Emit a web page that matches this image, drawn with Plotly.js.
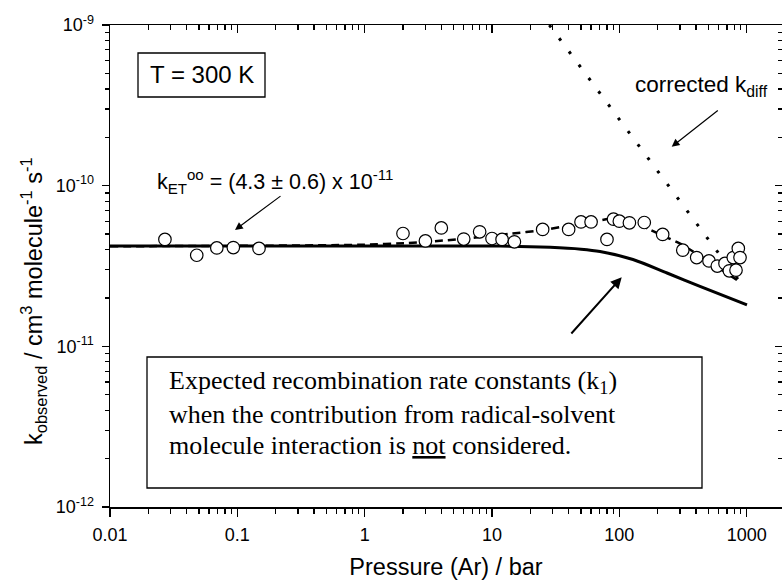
<!DOCTYPE html>
<html><head><meta charset="utf-8">
<script src="https://cdn.plot.ly/plotly-3.0.1.min.js"></script>
<style>html,body{margin:0;padding:0;background:#fff}#chart{width:782px;height:581px}</style>
</head><body><div id="chart"></div>
<script>
// Observed rate constants (open circles)
const obsPressure = [0.027, 0.048, 0.069, 0.093, 0.148, 2.0, 3.0, 4.0, 6.0, 8.0, 10, 12, 15, 25, 40, 50, 60, 80, 90, 100, 120, 157, 219, 315, 405, 506, 588, 676, 731, 785, 825, 860, 887];
const obsK = [4.63e-11, 3.69e-11, 4.10e-11, 4.12e-11, 4.07e-11, 5.04e-11, 4.53e-11, 5.46e-11, 4.65e-11, 5.16e-11, 4.69e-11, 4.63e-11, 4.47e-11, 5.34e-11, 5.34e-11, 5.95e-11, 5.95e-11, 4.63e-11, 6.19e-11, 6.01e-11, 5.87e-11, 5.90e-11, 4.97e-11, 3.97e-11, 3.57e-11, 3.40e-11, 3.16e-11, 3.28e-11, 2.95e-11, 3.57e-11, 2.98e-11, 4.07e-11, 3.57e-11];
// Expected k1 without radical-solvent interaction (solid)
const k1Pressure = [0.01, 1, 11.6, 28.6, 50, 70.5, 128, 237, 430, 1006];
const k1Values = [4.21e-11, 4.21e-11, 4.21e-11, 4.13e-11, 4.02e-11, 3.89e-11, 3.47e-11, 2.86e-11, 2.36e-11, 1.81e-11];
// Fit including solvent interaction (dashed)
const fitPressure = [0.01, 0.1, 1, 2.2, 4.1, 6.7, 13.9, 25, 41.3, 67.4, 89.5, 128, 173, 250, 300, 515, 883];
const fitValues = [4.20e-11, 4.22e-11, 4.29e-11, 4.40e-11, 4.55e-11, 4.72e-11, 5.02e-11, 5.29e-11, 5.68e-11, 6.04e-11, 6.28e-11, 6.04e-11, 5.34e-11, 4.66e-11, 4.36e-11, 3.34e-11, 2.52e-11];
// Corrected k_diff (dotted)
const kdiffPressure = [28.2, 74.4, 165, 430, 887];
const kdiffValues = [1.0e-9, 3.54e-10, 1.51e-10, 5.43e-11, 2.51e-11];
// Ticks
const xTickVals = [0.01, 0.1, 1, 10, 100, 1000];
const xTickText = ['0.01', '0.1', '1', '10', '100', '1000'];
const yTickVals = [1e-12, 1e-11, 1e-10, 1e-9];
const yTickText = ['10<sup>-12</sup>', '10<sup>-11</sup>', '10<sup>-10</sup>', '10<sup>-9</sup>'];

const xMinor = [];
for (let d = -2; d <= 3; d++) for (let m = 2; m <= 9; m++) { const v = m * Math.pow(10, d); if (v < 1890) xMinor.push(v); }
const yMinor = [];
for (let d = -12; d <= -10; d++) for (let m = 2; m <= 9; m++) yMinor.push(m * Math.pow(10, d));

// pixel -> paper helpers (plot area: x 110..782, y 25..507)
const L = 110, T = 25, W = 672, H = 482;
const X = px => (px - L) / W;
const Y = py => (T + H - py) / H;
const xRange = [-2, -2 + W / 127.33];
const yRange = [-12, -9];

const traces = [
  {x: kdiffPressure, y: kdiffValues, mode: 'lines', line: {color: 'black', width: 3, dash: '3px,13.5px'}, hoverinfo: 'skip'},
  {x: fitPressure, y: fitValues, mode: 'lines', line: {color: 'black', width: 2.5, dash: '8px,5px', shape: 'spline', smoothing: 0.6}, hoverinfo: 'skip'},
  {x: k1Pressure, y: k1Values, mode: 'lines', line: {color: 'black', width: 3, shape: 'spline', smoothing: 0.8}, hoverinfo: 'skip'},
  {x: obsPressure, y: obsK, mode: 'markers', marker: {symbol: 'circle', size: 12.5, color: 'white', line: {color: 'black', width: 1.2}}},
  {x: obsPressure, y: obsK, xaxis: 'x2', yaxis: 'y2', mode: 'markers', marker: {opacity: 0}, hoverinfo: 'skip'}
];

const axBase = {type: 'log', showgrid: false, zeroline: false, tickcolor: 'black', tickwidth: 1.5};
const layout = {
  width: 782, height: 581,
  margin: {l: L, r: 0, t: T, b: 581 - T - H},
  paper_bgcolor: 'white', plot_bgcolor: 'white', showlegend: false,
  font: {family: 'Liberation Sans, Arial, sans-serif', color: 'black'},
  xaxis: Object.assign({}, axBase, {
    range: xRange, tickmode: 'array', tickvals: xTickVals, ticktext: xTickText,
    ticks: 'outside', ticklen: 8, showline: true, linewidth: 1.5, linecolor: 'black', mirror: true,
    tickfont: {size: 18, family: 'Liberation Sans, Arial, sans-serif'}, ticklabelstandoff: 3,
    minor: {tickmode: 'array', tickvals: xMinor, ticks: 'outside', ticklen: 5, tickwidth: 1.2, tickcolor: 'black', showgrid: false},
    title: {text: 'Pressure (Ar) / bar', font: {size: 23.5}, standoff: 14}
  }),
  xaxis2: Object.assign({}, axBase, {
    overlaying: 'x', side: 'top', anchor: 'y', range: xRange, tickmode: 'array', tickvals: xTickVals,
    ticks: 'inside', ticklen: 8, showticklabels: false, showline: false,
    minor: {tickmode: 'array', tickvals: xMinor, ticks: 'inside', ticklen: 5, tickwidth: 1.2, tickcolor: 'black', showgrid: false}
  }),
  yaxis: Object.assign({}, axBase, {
    range: yRange, tickmode: 'array', tickvals: yTickVals, ticktext: yTickText,
    ticks: 'outside', ticklen: 7, showline: true, linewidth: 1.5, linecolor: 'black', mirror: false,
    tickfont: {size: 18, family: 'Liberation Sans, Arial, sans-serif'}, ticklabelstandoff: 4,
    minor: {tickmode: 'array', tickvals: yMinor, ticks: 'outside', ticklen: 4, tickwidth: 1.2, tickcolor: 'black', showgrid: false}
  }),
  yaxis2: Object.assign({}, axBase, {
    overlaying: 'y', side: 'right', anchor: 'x', range: yRange, tickmode: 'array', tickvals: yTickVals,
    ticks: 'inside', ticklen: 7, showticklabels: false, showline: false,
    minor: {tickmode: 'array', tickvals: yMinor, ticks: 'inside', ticklen: 4, tickwidth: 1.2, tickcolor: 'black', showgrid: false}
  }),
  shapes: [
    {type: 'rect', xref: 'paper', yref: 'paper', x0: X(138), x1: X(265), y0: Y(97), y1: Y(53), line: {color: 'black', width: 1.3}, fillcolor: 'rgba(0,0,0,0)'},
    {type: 'rect', xref: 'paper', yref: 'paper', x0: X(147), x1: X(702), y0: Y(488), y1: Y(357), line: {color: 'black', width: 1.3}, fillcolor: 'white', layer: 'above'}
  ],
  annotations: [
    {xref: 'paper', yref: 'paper', x: X(33), y: Y(301), textangle: -90, showarrow: false, xanchor: 'center', yanchor: 'middle',
     text: 'k<sub>observed</sub> / cm<sup>3</sup> molecule<sup>-1</sup> s<sup>-1</sup>', font: {size: 23.5}},
    {xref: 'paper', yref: 'paper', x: X(201.5), y: Y(75), showarrow: false, xanchor: 'center', yanchor: 'middle',
     text: 'T = 300 K', font: {size: 24}},
    {xref: 'paper', yref: 'paper', x: X(155), y: Y(182), showarrow: false, xanchor: 'left', yanchor: 'middle',
     text: 'k<sub>ET</sub><sup>oo</sup> = (4.3 ± 0.6) x 10<sup>-11</sup>', font: {size: 21.5}},
    {xref: 'paper', yref: 'paper', x: X(633), y: Y(86), showarrow: false, xanchor: 'left', yanchor: 'middle',
     text: 'corrected k<sub>diff</sub>', font: {size: 22.5}},
    {xref: 'paper', yref: 'paper', x: X(235), y: Y(230), ax: 47, ay: -35, text: '', showarrow: true,
     arrowhead: 2, arrowsize: 1.3, arrowwidth: 1.2, arrowcolor: 'black', standoff: 0, startstandoff: 0},
    {xref: 'paper', yref: 'paper', x: X(671.7), y: Y(146.7), ax: 47.6, ay: -37.4, text: '', showarrow: true,
     arrowhead: 2, arrowsize: 1.3, arrowwidth: 1.2, arrowcolor: 'black', standoff: 0, startstandoff: 0},
    {xref: 'paper', yref: 'paper', x: X(621.7), y: Y(277.3), ax: -51.7, ay: 57.7, text: '', showarrow: true,
     arrowhead: 2, arrowsize: 1.1, arrowwidth: 2, arrowcolor: 'black', standoff: 0, startstandoff: 0},
    {xref: 'paper', yref: 'paper', x: X(167), y: Y(382), showarrow: false, xanchor: 'left', yanchor: 'middle',
     text: 'Expected recombination rate constants (k<sub>1</sub>)', font: {size: 26, family: 'Liberation Serif, Times New Roman, serif'}},
    {xref: 'paper', yref: 'paper', x: X(167), y: Y(414), showarrow: false, xanchor: 'left', yanchor: 'middle',
     text: 'when the contribution from radical-solvent', font: {size: 26, family: 'Liberation Serif, Times New Roman, serif'}},
    {xref: 'paper', yref: 'paper', x: X(167), y: Y(445), showarrow: false, xanchor: 'left', yanchor: 'middle',
     text: 'molecule interaction is <u>not</u> considered.', font: {size: 26, family: 'Liberation Serif, Times New Roman, serif'}}
  ]
};

Plotly.newPlot('chart', traces, layout, {staticPlot: true, displayModeBar: false});
</script>
</body></html>
